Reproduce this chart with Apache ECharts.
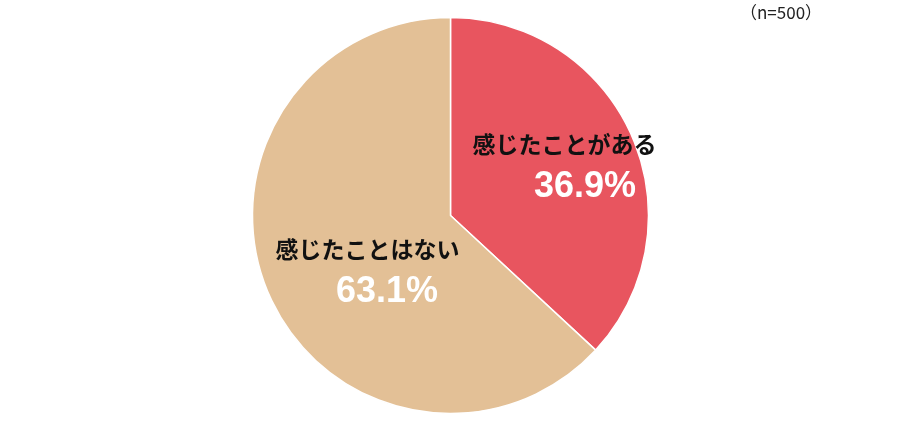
<!DOCTYPE html>
<html><head><meta charset="utf-8">
<script src="https://cdn.jsdelivr.net/npm/echarts@6/dist/echarts.min.js"></script>
<style>html,body{margin:0;padding:0;background:#fff}#c{width:900px;height:424px}</style>
</head><body><div id="c"></div>
<script>
const categories = ['感じたことがある', '感じたことはない'];
const values = [36.9, 63.1];
const colors = ['#E8555F', '#E3C096'];
const sampleNote = '（n=500）';

const labelOffsets = [[20.5, -5.5], [10.5, 18]];
const pctPad = [41, 39];

const chart = echarts.init(document.getElementById('c'));
chart.setOption({
  animation: false,
  graphic: [{
    type: 'text', left: 740, top: 4,
    style: { text: sampleNote, fontSize: 17, fill: '#222', fontFamily: 'Noto Sans CJK JP' }
  }],
  series: [{
    type: 'pie',
    center: [450.5, 215.5],
    radius: [0, 198],
    startAngle: 90,
    clockwise: true,
    silent: true,
    itemStyle: { borderColor: '#fff', borderWidth: 1.5 },
    label: {
      show: true,
      position: 'inside',
      formatter: p => '{a|' + p.name + '}\n{b|' + p.value.toFixed(1) + '%}',
      rich: {
        a: { fontSize: 23, fontWeight: 'bold', color: '#111', lineHeight: 36, fontFamily: 'Noto Sans CJK JP' },
        b: { fontSize: 36, fontWeight: 'bold', color: '#fff', lineHeight: 50, fontFamily: 'Liberation Sans, Arial, sans-serif' }
      }
    },
    labelLine: { show: false },
    data: categories.map((n, i) => ({
      name: n, value: values[i],
      itemStyle: { color: colors[i] },
      label: {
        offset: labelOffsets[i],
        rich: { b: { padding: [0, 0, 0, pctPad[i]] } }
      }
    }))
  }]
});
</script></body></html>
